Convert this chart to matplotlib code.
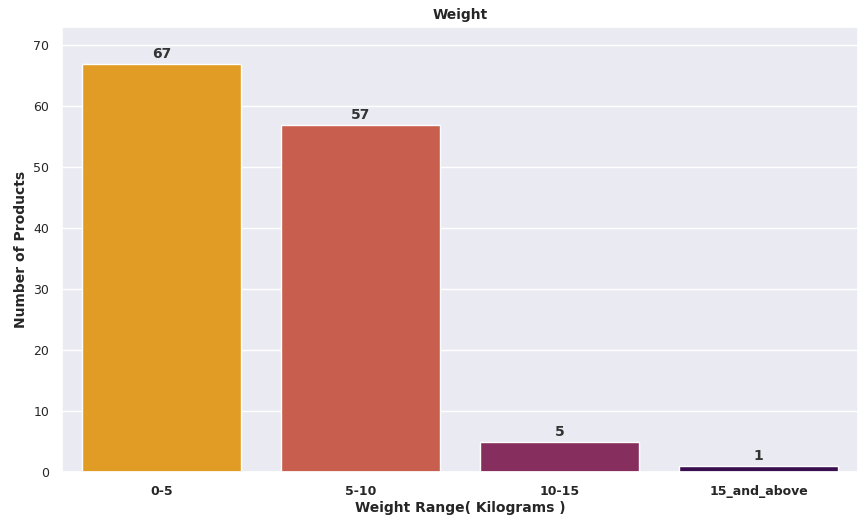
import matplotlib
matplotlib.use("Agg")
import matplotlib.pyplot as plt
import seaborn as sns

categories = ["0-5", "5-10", "10-15", "15_and_above"]
counts = [67, 57, 5, 1]
colors = ["#E09C24", "#C85E4E", "#862F5E", "#3A0F4F"]

sns.set_theme(style="darkgrid")
fig = plt.figure(figsize=(8.66, 5.21), dpi=100)
ax = fig.add_axes([0.072, 0.094, 0.919, 0.854])
bars = ax.bar(range(len(categories)), counts, width=0.8, color=colors, edgecolor="white", linewidth=1)
for i, v in enumerate(counts):
    ax.text(i, v + 0.5, str(v), ha="center", va="bottom", fontweight="bold", fontsize=10, color="#333333")
ax.set_xticks(range(len(categories)))
ax.set_xticklabels(categories, fontweight="bold", fontsize=9)
ax.set_xlim(-0.5, 3.5)
ax.set_ylim(0, 73)
ax.tick_params(axis="y", labelsize=9)
ax.set_title("Weight", fontweight="bold", fontsize=10)
ax.set_xlabel("Weight Range( Kilograms )", fontweight="bold", fontsize=10, labelpad=2)
ax.set_ylabel("Number of Products", fontweight="bold", fontsize=10)
ax.grid(axis="x", visible=False)
fig.savefig("out.png", dpi=100)
